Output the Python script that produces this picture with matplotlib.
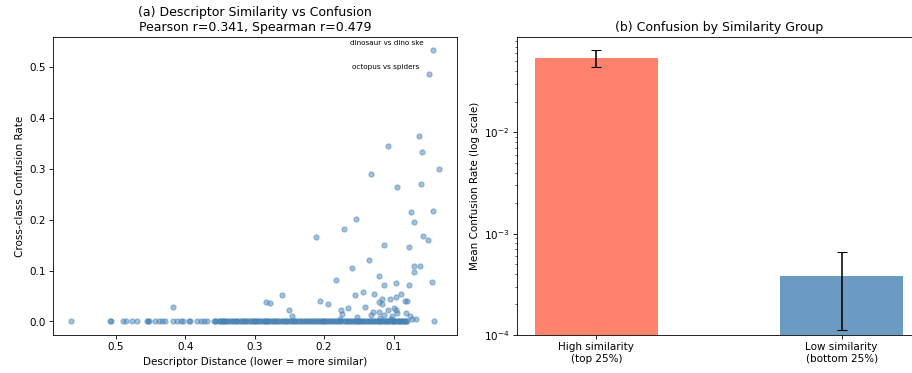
import matplotlib
matplotlib.use("Agg")
import matplotlib.pyplot as plt

# nonzero confusion pairs (descriptor distance, confusion rate)
pair_dist = [0.043, 0.049, 0.0635, 0.108, 0.059, 0.035, 0.132, 0.060, 0.095, 0.075,
             0.043, 0.154, 0.070, 0.171, 0.057, 0.051, 0.211, 0.114, 0.077, 0.136,
             0.160, 0.071, 0.0615, 0.0707, 0.121, 0.183, 0.045, 0.097, 0.114, 0.078,
             0.144, 0.260, 0.155, 0.128, 0.089, 0.096, 0.105, 0.117, 0.206, 0.283,
             0.278, 0.121, 0.083, 0.081, 0.195, 0.116, 0.418, 0.141, 0.100, 0.251,
             0.176, 0.165, 0.108, 0.097, 0.095, 0.121, 0.129, 0.082, 0.174, 0.246,
             0.132, 0.076, 0.113, 0.102, 0.073, 0.067, 0.152, 0.177, 0.120, 0.103]
pair_conf = [0.533, 0.487, 0.365, 0.344, 0.333, 0.300, 0.289, 0.270, 0.265, 0.215,
             0.218, 0.202, 0.195, 0.181, 0.168, 0.160, 0.165, 0.150, 0.147, 0.121,
             0.105, 0.108, 0.108, 0.097, 0.089, 0.081, 0.078, 0.076, 0.071, 0.071,
             0.058, 0.0525, 0.0525, 0.054, 0.054, 0.047, 0.045, 0.045, 0.041, 0.039,
             0.037, 0.039, 0.040, 0.041, 0.035, 0.035, 0.029, 0.029, 0.026, 0.023,
             0.023, 0.026, 0.023, 0.022, 0.016, 0.018, 0.018, 0.016, 0.014, 0.010,
             0.012, 0.010, 0.012, 0.010, 0.004, 0.004, 0.008, 0.005, 0.006, 0.004]

# pairs that were never confused
zero_dist = [0.564, 0.508, 0.507, 0.489, 0.4855, 0.476, 0.469, 0.455, 0.454, 0.452,
             0.443, 0.438, 0.4335, 0.429, 0.417, 0.412, 0.4065, 0.4027, 0.394, 0.393,
             0.3834, 0.3776, 0.373, 0.368,
             0.359, 0.357, 0.355, 0.352, 0.350, 0.348, 0.346, 0.345, 0.344, 0.342,
             0.340, 0.338, 0.336, 0.333, 0.331, 0.329, 0.327, 0.325, 0.322, 0.320,
             0.318, 0.316, 0.314, 0.312, 0.309, 0.307, 0.305, 0.303, 0.301, 0.300,
             0.298, 0.296, 0.294, 0.292, 0.290, 0.287, 0.285, 0.284, 0.283, 0.281,
             0.279, 0.277, 0.274, 0.272, 0.270, 0.268, 0.266, 0.263, 0.261, 0.259,
             0.257, 0.255, 0.253, 0.250, 0.248, 0.246, 0.244, 0.242, 0.240, 0.237,
             0.235, 0.233, 0.231, 0.229, 0.226, 0.224, 0.222, 0.220, 0.218, 0.216,
             0.213, 0.211, 0.209, 0.207, 0.205, 0.203, 0.201, 0.200, 0.198, 0.196,
             0.194, 0.192, 0.190, 0.187, 0.185, 0.183, 0.181, 0.179, 0.177, 0.175,
             0.172, 0.170, 0.168, 0.166, 0.164, 0.162, 0.160, 0.158, 0.156, 0.154,
             0.152, 0.151, 0.150, 0.148, 0.146, 0.144, 0.142, 0.140, 0.138, 0.136,
             0.134, 0.132, 0.130, 0.128, 0.126, 0.124, 0.122, 0.121, 0.120, 0.118,
             0.116, 0.114, 0.112, 0.111, 0.110, 0.108, 0.106, 0.104, 0.102, 0.101,
             0.100, 0.098, 0.096, 0.094, 0.092, 0.091, 0.090, 0.088, 0.086, 0.085,
             0.084, 0.082, 0.080, 0.042]
zero_conf = [0.0] * len(zero_dist)

labels_top = ["dinosaur vs dino skeleton", "octopus vs spiders"]

# similarity groups
group_names = ["High similarity\n(top 25%)", "Low similarity\n(bottom 25%)"]
group_means = [0.0542, 0.000385]
group_err = [0.0105, 0.000272]

dist = pair_dist + zero_dist
conf = pair_conf + zero_conf

fig = plt.figure(figsize=(12.16, 4.975), dpi=75)
ax1 = fig.add_axes([0.0581, 0.102, 0.443, 0.799])
ax2 = fig.add_axes([0.5666, 0.102, 0.4436, 0.799])

ax1.scatter(dist, conf, s=25, alpha=0.5, color="steelblue")
for i, name in enumerate(labels_top):
    ax1.annotate(name[:20], (pair_dist[i], pair_conf[i]), xytext=(-9, 5),
                 textcoords="offset points", ha="right", fontsize=7)
ax1.invert_xaxis()
ax1.set_xlabel("Descriptor Distance (lower = more similar)")
ax1.set_ylabel("Cross-class Confusion Rate")
ax1.set_title("(a) Descriptor Similarity vs Confusion\nPearson r=0.341, Spearman r=0.479", fontsize=12)

ax2.bar([0, 1], group_means, width=0.5, yerr=group_err, capsize=5,
        color=["tomato", "steelblue"], alpha=0.8)
ax2.set_yscale("log")
ax2.set_ylim(1e-4, 0.0875)
ax2.set_xticks([0, 1])
ax2.set_xticklabels(group_names)
ax2.set_ylabel("Mean Confusion Rate (log scale)")
ax2.set_title("(b) Confusion by Similarity Group", fontsize=12)

fig.savefig("out.png", dpi=75)
